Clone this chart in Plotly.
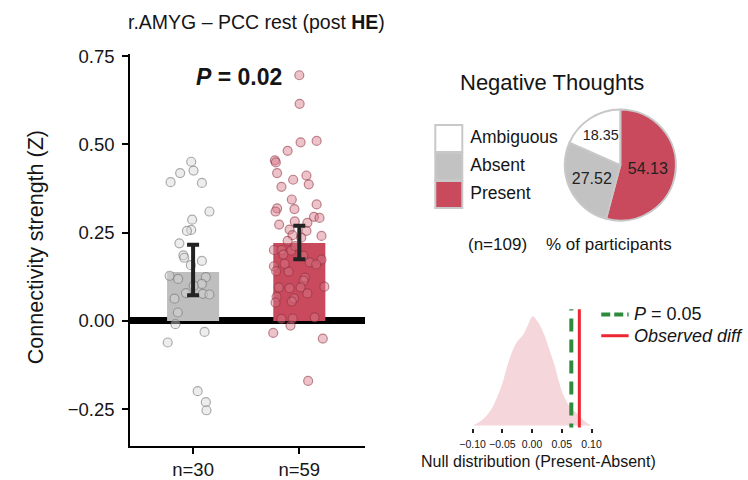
import plotly.graph_objects as go

# ---------------- data ----------------
groups = ["Absent", "Present"]
group_ticks = ["n=30", "n=59"]
bar_means = [0.139, 0.221]
err_hi = [0.077, 0.049]
err_lo = [0.066, 0.046]

absent_jit = [-0.018, -0.122, 0.004, -0.212, 0.083, 0.154, -0.009, -0.018, -0.058, -0.129,
              -0.092, -0.083, 0.083, -0.021, -0.221, -0.141, 0.120, 0.083, -0.067, 0.092,
              0.154, -0.175, -0.144, -0.166, 0.108, -0.239, 0.043, 0.120, 0.126, 0.006]
absent_vals = [0.451, 0.419, 0.426, 0.393, 0.391, 0.310, 0.287, 0.258, 0.255, 0.220,
               0.186, 0.179, 0.170, 0.158, 0.128, 0.119, 0.124, 0.105, 0.079, 0.077,
               0.075, 0.063, 0.024, -0.009, -0.031, -0.061, -0.199, -0.230, -0.253, 0.100]

present_jit = [0.000, 0.003, 0.012, 0.163, -0.110, -0.230, -0.221, -0.209, -0.058, 0.067,
               0.089, -0.168, -0.071, -0.209, -0.224, -0.046, 0.163, 0.138, 0.190, -0.190,
               -0.043, 0.076, -0.092, 0.067, 0.209, -0.064, -0.110, -0.239, -0.168, -0.076,
               -0.150, 0.098, 0.209, 0.159, -0.239, -0.218, -0.101, 0.052, 0.040, 0.236,
               -0.193, -0.092, 0.012, 0.076, -0.214, -0.049, -0.071, -0.224, -0.168, -0.062,
               0.144, -0.083, -0.246, 0.221, 0.083, -0.037, 0.018, -0.138, 0.037]
present_vals = [0.696, 0.615, 0.506, 0.510, 0.482, 0.455, 0.449, 0.419, 0.400, 0.412,
                0.387, 0.380, 0.344, 0.319, 0.310, 0.317, 0.330, 0.295, 0.292, 0.273,
                0.282, 0.278, 0.259, 0.255, 0.241, 0.243, 0.227, 0.201, 0.201, 0.199,
                0.188, 0.166, 0.174, 0.160, 0.155, 0.141, 0.140, 0.123, 0.114, 0.097,
                0.095, 0.093, 0.095, 0.078, 0.068, 0.064, 0.055, 0.052, 0.006, 0.007,
                0.010, -0.013, -0.034, -0.050, -0.170, 0.212, 0.236, 0.162, 0.185]

pie_labels = ["Present", "Absent", "Ambiguous"]
pie_values = [54.13, 27.52, 18.35]
legend_labels = ["Ambiguous", "Absent", "Present"]

null_x = [-0.0998, -0.0836, -0.0696, -0.0587, -0.0504, -0.042, -0.034, -0.026, -0.015, -0.0069,
          0.0013, 0.0095, 0.0205, 0.0287, 0.037, 0.045, 0.053, 0.064, 0.078, 0.089, 0.100]
null_density = [0.0, 0.053, 0.141, 0.26, 0.377, 0.54, 0.67, 0.76, 0.83, 0.92,
                1.0, 0.95, 0.83, 0.70, 0.567, 0.406, 0.274, 0.17, 0.097, 0.038, 0.0]
p05_threshold = 0.066
observed_diff = 0.0795
null_ticks = [-0.10, -0.05, 0.00, 0.05, 0.10]

# ---------------- styling ----------------
FONT = "Liberation Sans, Arial, Helvetica, sans-serif"
TXT = "#151515"
RED = "#C94A5C"
GRAY = "#BEBEBE"
W, H = 748, 480

def px_x(p):
    return p / W

def px_y(p):
    return 1 - p / H

fig = go.Figure()

# bars
fig.add_trace(go.Bar(x=[0, 1], y=bar_means, width=0.49,
                     marker=dict(color=[GRAY, RED], line=dict(width=0)),
                     xaxis="x", yaxis="y", showlegend=False))
# jittered points
fig.add_trace(go.Scatter(x=[0 + j for j in absent_jit], y=absent_vals, mode="markers",
                         marker=dict(size=9, color="rgba(215,215,215,0.45)",
                                     line=dict(color="rgba(120,120,120,0.6)", width=1.2)),
                         xaxis="x", yaxis="y", showlegend=False))
fig.add_trace(go.Scatter(x=[1 + j for j in present_jit], y=present_vals, mode="markers",
                         marker=dict(size=9, color="rgba(214,120,135,0.45)",
                                     line=dict(color="rgba(140,50,65,0.55)", width=1.2)),
                         xaxis="x", yaxis="y", showlegend=False))
# error bars
fig.add_trace(go.Scatter(x=[0, 1], y=bar_means, mode="markers",
                         marker=dict(size=1, color="rgba(0,0,0,0)"),
                         error_y=dict(type="data", symmetric=False, array=err_hi, arrayminus=err_lo,
                                      color="#222222", thickness=4, width=6),
                         xaxis="x", yaxis="y", showlegend=False))

# null distribution
fig.add_trace(go.Scatter(x=null_x, y=null_density, mode="lines", fill="tozeroy",
                         line=dict(color="rgba(245,214,219,1)", width=0, shape="spline"),
                         fillcolor="rgba(245,214,219,1)",
                         xaxis="x2", yaxis="y2", showlegend=False))
fig.add_trace(go.Scatter(x=[p05_threshold, p05_threshold], y=[-0.1, 1.07], mode="lines",
                         line=dict(color="#2E8B3E", width=4, dash="13px,8px"),
                         xaxis="x2", yaxis="y2", showlegend=False))
fig.add_trace(go.Scatter(x=[observed_diff, observed_diff], y=[-0.1, 1.07], mode="lines",
                         line=dict(color="#EE2631", width=3),
                         xaxis="x2", yaxis="y2", showlegend=False))

# pie
fig.add_trace(go.Pie(labels=pie_labels, values=pie_values, sort=False, direction="clockwise",
                     rotation=0, marker=dict(colors=[RED, "#C2C2C2", "#FFFFFF"],
                                             line=dict(color="#C8C8C8", width=2)),
                     texttemplate="%{value:.2f}", textposition="inside",
                     insidetextorientation="horizontal",
                     textfont=dict(family=FONT, size=16, color="#222222"),
                     domain=dict(x=[px_x(565), px_x(684)], y=[px_y(219), px_y(104)]),
                     showlegend=False, hoverinfo="none"))

# pie legend squares (pixel overlay axes)
leg_colors = {"Ambiguous": "#FFFFFF", "Absent": "#C2C2C2", "Present": RED}
leg_y = [134, 163, 192]
fig.add_trace(go.Scatter(x=[449] * 3, y=leg_y, mode="markers",
                         marker=dict(symbol="square", size=27,
                                     color=[leg_colors[l] for l in legend_labels],
                                     line=dict(color="#C8C8C8", width=2)),
                         xaxis="x3", yaxis="y3", showlegend=False))
fig.add_trace(go.Scatter(x=[471] * 3, y=leg_y, mode="text", text=legend_labels,
                         textposition="middle right",
                         textfont=dict(family=FONT, size=17.5, color=TXT),
                         xaxis="x3", yaxis="y3", showlegend=False))
# null legend samples
fig.add_trace(go.Scatter(x=[605, 633], y=[316, 316], mode="lines",
                         line=dict(color="#2E8B3E", width=4, dash="9px,4px"),
                         xaxis="x3", yaxis="y3", showlegend=False))
fig.add_trace(go.Scatter(x=[605, 633], y=[338, 338], mode="lines",
                         line=dict(color="#EE2631", width=3),
                         xaxis="x3", yaxis="y3", showlegend=False))

sp = "\u00a0"
annotations = [
    dict(text="r.AMYG \u2013 PCC rest (post <b>HE</b>)", x=119, y=13, xanchor="left",
         font=dict(size=19.5)),
    dict(text="<b><i>P</i> = 0.02</b>", x=234, y=70, xanchor="center", font=dict(size=23)),
    dict(text="Connectivity strength (Z)", x=26, y=246, xanchor="center", textangle=-90,
         font=dict(size=21.5)),
    dict(text="Negative Thoughts", x=555, y=76, xanchor="center", font=dict(size=22)),
    dict(text="(n=109)" + sp * 4 + "% of participants", x=573, y=244, xanchor="center",
         font=dict(size=17)),
    dict(text="Null distribution (Present-Absent)", x=541, y=468, xanchor="center",
         font=dict(size=16)),
    dict(text="<i>P</i> = 0.05", x=636, y=316, xanchor="left", font=dict(size=18)),
    dict(text="<i>Observed diff</i>", x=636, y=338, xanchor="left", font=dict(size=18)),
]
for a in annotations:
    a.update(xref="x3", yref="y3", showarrow=False, yanchor="middle")
    a["font"].update(family=FONT, color=TXT)

fig.update_layout(
    width=W, height=H, margin=dict(l=0, r=0, t=0, b=0),
    paper_bgcolor="white", plot_bgcolor="rgba(0,0,0,0)",
    font=dict(family=FONT, color=TXT),
    annotations=annotations,
    xaxis=dict(domain=[px_x(123), px_x(363)], range=[-0.592, 1.616],
               tickvals=[0, 1], ticktext=group_ticks, showline=True, linecolor="black",
               linewidth=2, ticks="outside", ticklen=6, tickwidth=2, tickcolor="black",
               showgrid=False, zeroline=False, tickfont=dict(size=18.5, color=TXT)),
    yaxis=dict(domain=[px_y(452), px_y(47)], range=[-0.354, 0.755],
               tickvals=[-0.25, 0, 0.25, 0.5, 0.75], tickformat=".2f",
               showline=True, linecolor="black", linewidth=2, ticks="outside", ticklen=6,
               tickwidth=2, tickcolor="black", showgrid=False, zeroline=True,
               ticklabelstandoff=4,
               zerolinecolor="black", zerolinewidth=7, tickfont=dict(size=18.5, color=TXT)),
    xaxis2=dict(domain=[px_x(470.3), px_x(598.1)], range=[-0.105, 0.105], anchor="y2",
                tickvals=null_ticks, tickformat=".2f", ticks="outside", ticklen=4,
                tickwidth=2, tickcolor="#222", showline=False, showgrid=False,
                ticklabelstandoff=3,
                zeroline=False, tickfont=dict(size=10.5, color=TXT)),
    yaxis2=dict(domain=[px_y(433), px_y(310.7)], range=[-0.018, 1.062], anchor="x2",
                visible=False),
    xaxis3=dict(domain=[0, 1], range=[0, W], visible=False, anchor="y3"),
    yaxis3=dict(domain=[0, 1], range=[H, 0], visible=False, anchor="x3"),
)

fig.write_html("out.html")
